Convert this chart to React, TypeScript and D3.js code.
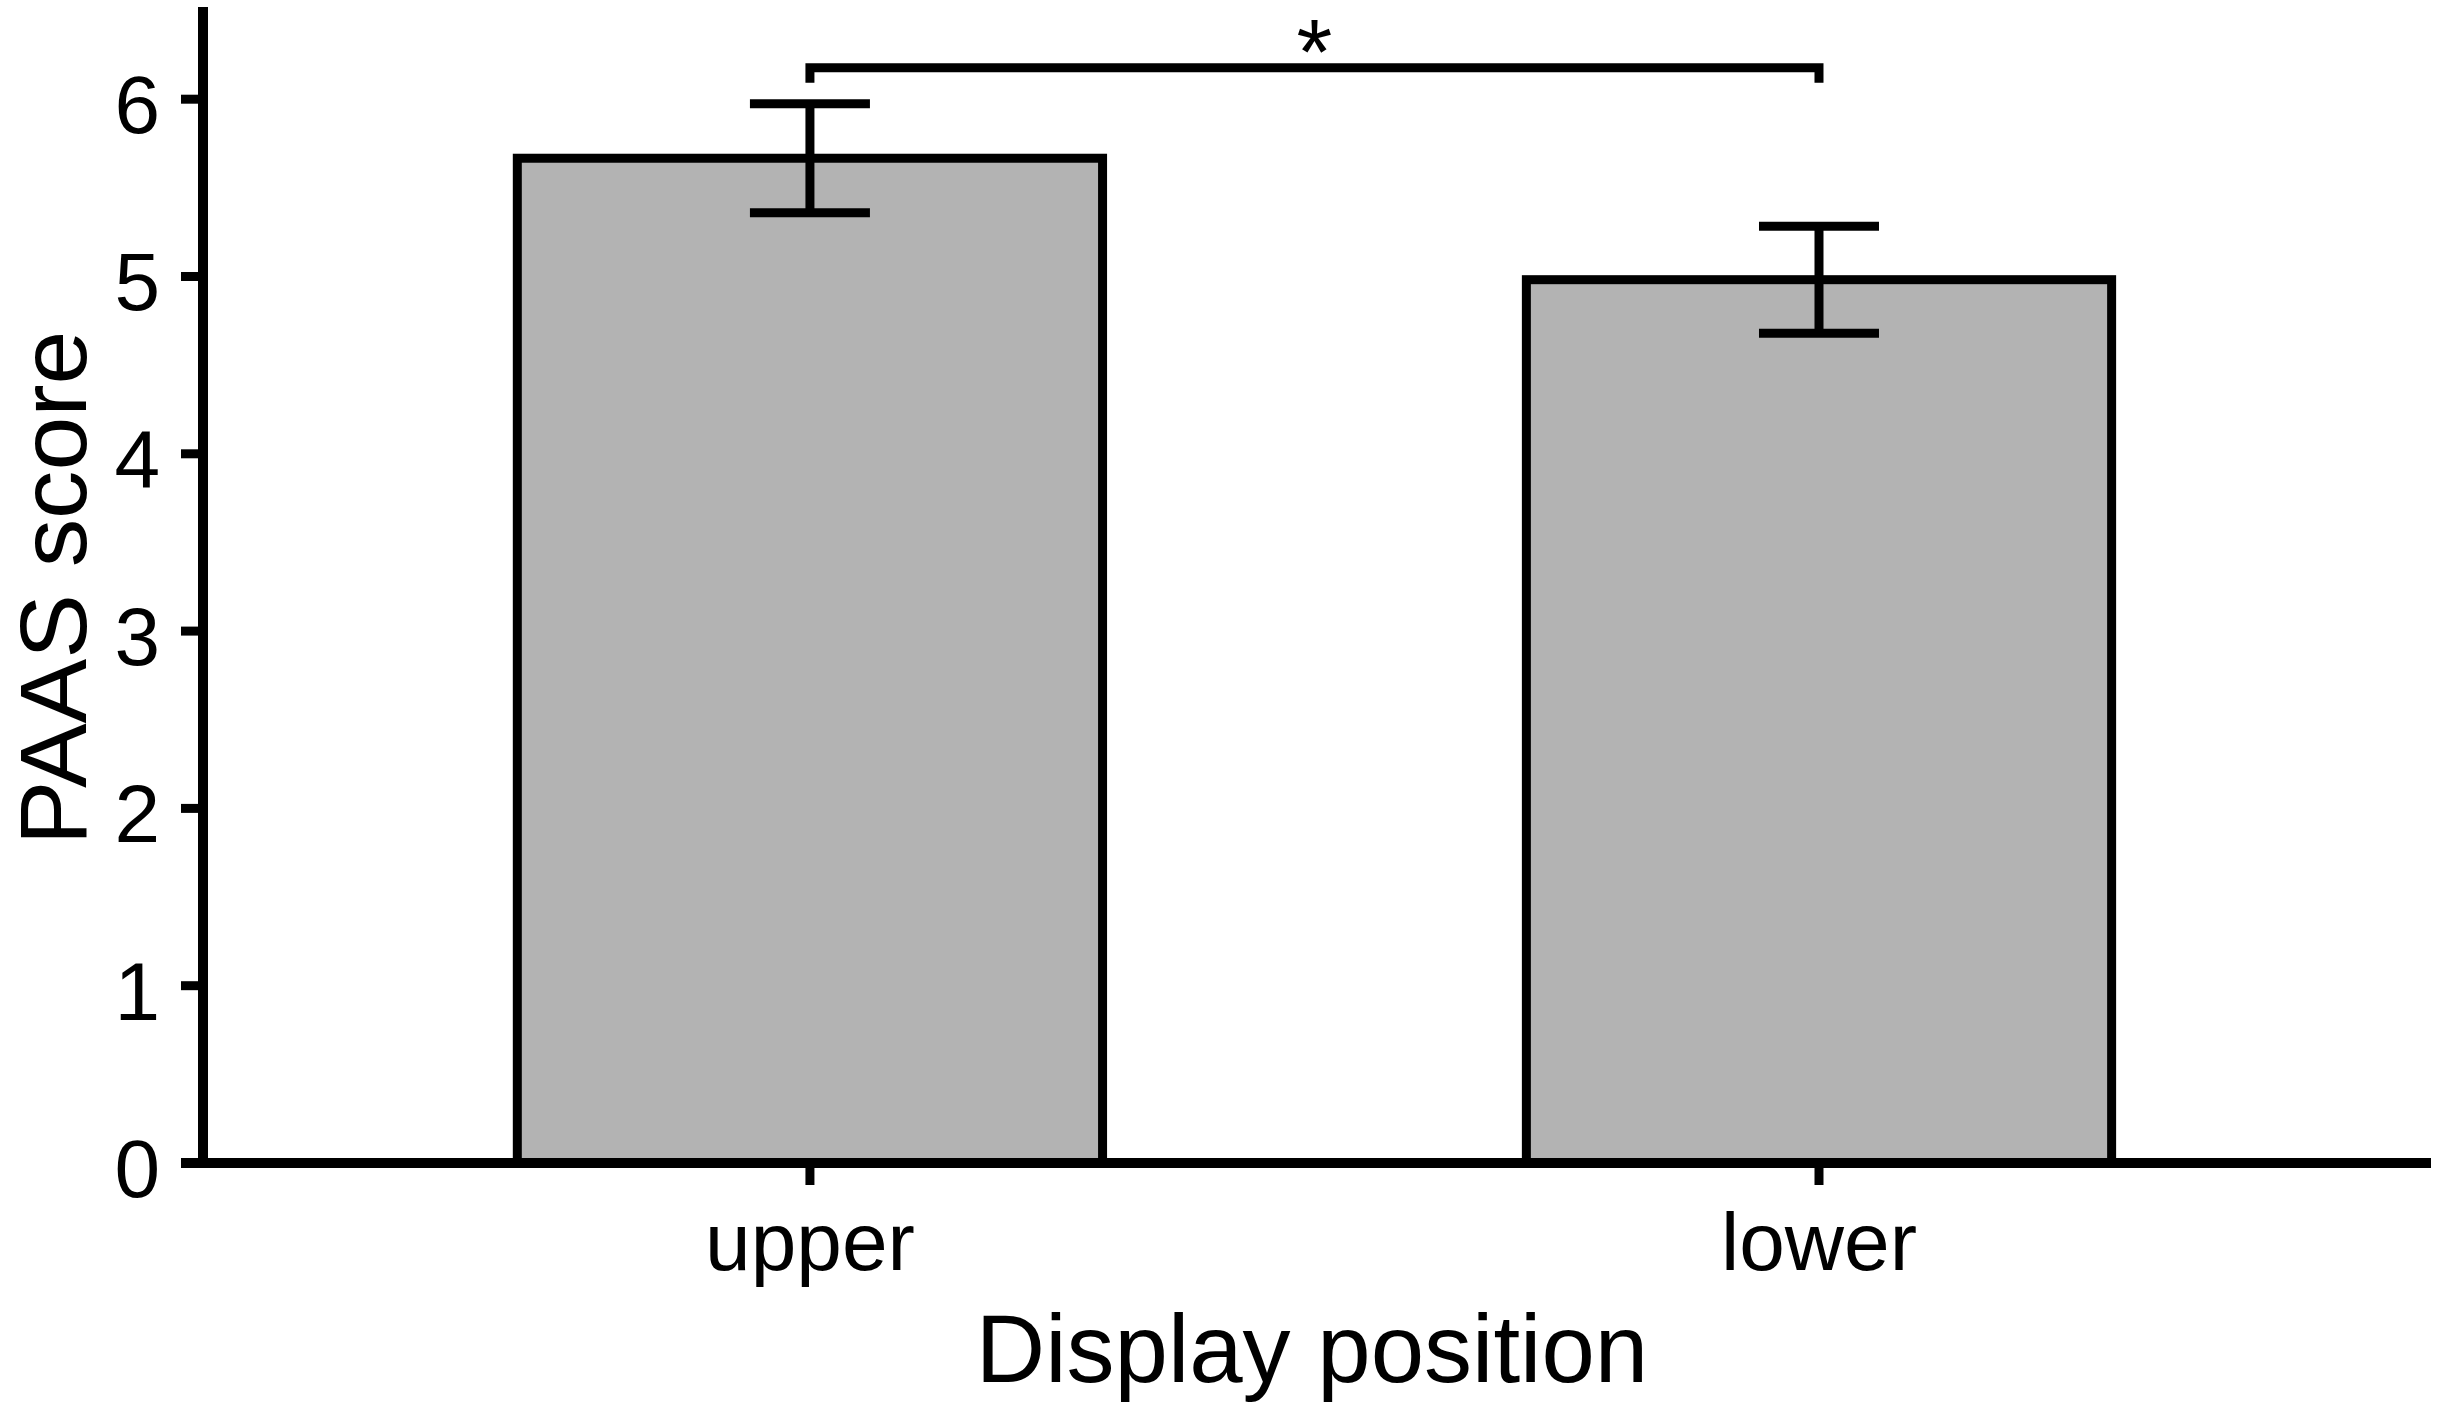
import React from "react";
import * as d3 from "d3";

const categories = ["upper", "lower"];
const means = [5.667, 4.982];
const errors = [0.307, 0.302];
const yTicks = [0, 1, 2, 3, 4, 5, 6];
const yMax = 6.52;
const sigPairs = [["upper", "lower"]];
const sigLabels = ["*"];
const sigLevels = [6.178];
const xTitle = "Display position";
const yTitle = "PAAS score";

const W = 2443;
const H = 1410;
const FONT = "'Liberation Sans', Arial, Helvetica, sans-serif";
const SW = 9;

export default function App() {
  const y = d3.scaleLinear().domain([0, yMax]).range([1163, 7]);
  const x = d3
    .scaleBand<string>()
    .domain(categories)
    .range([203, 2431])
    .paddingInner(0.42)
    .paddingOuter(0.314)
    .align(0.496);
  const bw = x.bandwidth();
  const cx = (c: string) => (x(c) as number) + bw / 2;
  const axisX = 203;
  const axisY = y(0);

  return (
    <svg
      width={W}
      height={H}
      viewBox={`0 0 ${W} ${H}`}
      style={{ position: "absolute", left: 0, top: 0, background: "#fff" }}
      fontFamily={FONT}
    >
      <rect x={0} y={0} width={W} height={H} fill="#fff" />
      {/* bars */}
      {categories.map((c, i) => (
        <rect
          key={c}
          x={x(c)}
          y={y(means[i])}
          width={bw}
          height={axisY - y(means[i])}
          fill="#b3b3b3"
          stroke="#000"
          strokeWidth={SW}
        />
      ))}
      {/* error bars */}
      {categories.map((c, i) => {
        const xc = cx(c);
        const hi = y(means[i] + errors[i]);
        const lo = y(means[i] - errors[i]);
        return (
          <g key={"e" + c} stroke="#000" strokeWidth={SW}>
            <line x1={xc} x2={xc} y1={hi} y2={lo} />
            <line x1={xc - 60} x2={xc + 60} y1={hi} y2={hi} />
            <line x1={xc - 60} x2={xc + 60} y1={lo} y2={lo} />
          </g>
        );
      })}
      {/* y axis */}
      <line x1={axisX} x2={axisX} y1={y(yMax)} y2={axisY + SW / 2} stroke="#000" strokeWidth={SW + 1} />
      {yTicks.map((t) => (
        <g key={"yt" + t}>
          <line x1={181} x2={axisX} y1={y(t)} y2={y(t)} stroke="#000" strokeWidth={SW} />
          <text x={160} y={y(t) + 34} fontSize={82} textAnchor="end" fill="#000">
            {t}
          </text>
        </g>
      ))}
      {/* x axis */}
      <line x1={181} x2={2431} y1={axisY} y2={axisY} stroke="#000" strokeWidth={SW + 1} />
      {categories.map((c) => (
        <g key={"xt" + c}>
          <line x1={cx(c)} x2={cx(c)} y1={axisY} y2={axisY + 22} stroke="#000" strokeWidth={SW} />
          <text x={cx(c)} y={1270} fontSize={82} textAnchor="middle" fill="#000">
            {c}
          </text>
        </g>
      ))}
      {/* significance bracket */}
      {sigPairs.map((p, i) => {
        const x1 = cx(p[0]);
        const x2 = cx(p[1]);
        const yl = y(sigLevels[i]);
        const path = d3.path();
        path.moveTo(x1, yl + 15);
        path.lineTo(x1, yl);
        path.lineTo(x2, yl);
        path.lineTo(x2, yl + 15);
        return (
          <g key={"sig" + i}>
            <path d={path.toString()} fill="none" stroke="#000" strokeWidth={SW} />
            <text x={(x1 + x2) / 2} y={yl + 16} fontSize={92} textAnchor="middle" fill="#000">
              {sigLabels[i]}
            </text>
          </g>
        );
      })}
      {/* titles */}
      <text x={1312} y={1382} fontSize={96} textAnchor="middle" fill="#000">
        {xTitle}
      </text>
      <text
        transform="translate(86,588) rotate(-90) scale(1.03,1)"
        fontSize={94}
        textAnchor="middle"
        fill="#000"
      >
        {yTitle}
      </text>
    </svg>
  );
}
